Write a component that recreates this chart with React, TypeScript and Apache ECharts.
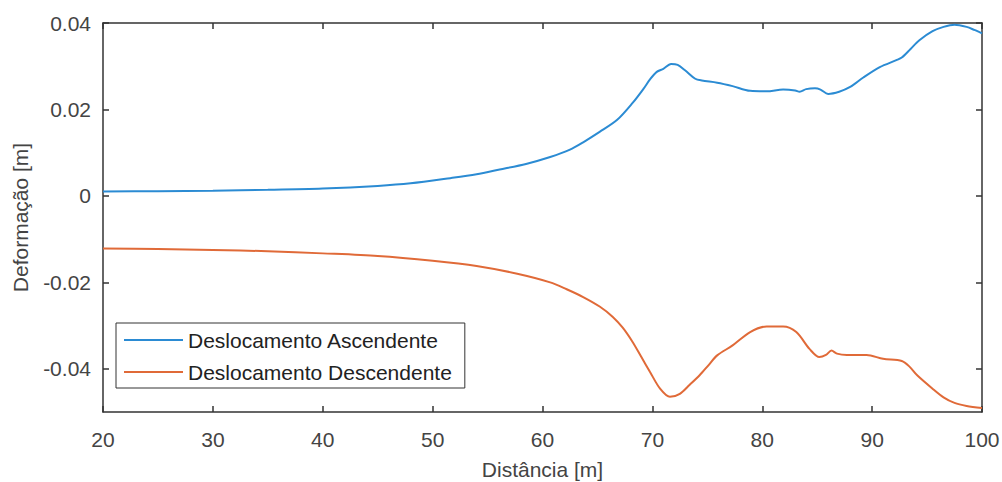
import React, { useEffect, useRef } from "react";
import * as echarts from "echarts";

const xTicks = [20, 30, 40, 50, 60, 70, 80, 90, 100];
const yTickLabels = [-0.04, -0.02, 0, 0.02, 0.04];

const ascX = [20, 25, 30, 35, 40, 45, 48, 51.6, 54, 56.1, 58.5, 60.7, 62.5, 63.7, 65.2, 66.8, 68.2, 69.2, 69.8, 70.4, 71.0, 71.7, 72.3, 73.0, 73.9, 74.5, 75.9, 77.3, 78.9, 80.4, 81.9, 83.0, 83.4, 84.0, 84.8, 85.3, 86.0, 87.0, 88.0, 89.2, 90.7, 92.2, 92.7, 93.5, 94.3, 95.5, 96.5, 97.5, 98.6, 99.3, 100];
const ascY = [0.001, 0.0011, 0.0012, 0.0014, 0.0017, 0.0023, 0.0029, 0.0041, 0.005, 0.0061, 0.0074, 0.009, 0.0107, 0.0124, 0.0148, 0.0176, 0.0215, 0.0248, 0.027, 0.0287, 0.0294, 0.0305, 0.0303, 0.029, 0.0271, 0.0267, 0.0262, 0.0254, 0.0243, 0.0242, 0.0246, 0.0244, 0.0241, 0.0247, 0.0249, 0.0246, 0.0236, 0.0241, 0.0252, 0.0274, 0.0298, 0.0314, 0.032, 0.034, 0.036, 0.0381, 0.0391, 0.0396, 0.0391, 0.0384, 0.0376];

const descX = [20, 25, 30, 35, 40, 45, 50, 54, 57.7, 60.7, 62.2, 63.7, 65.2, 66.4, 67.3, 68.2, 69.0, 69.8, 70.7, 71.6, 72.5, 73.4, 74.3, 75.1, 75.9, 77.3, 78.9, 80.4, 81.9, 83.1, 84.3, 85.2, 85.8, 86.3, 86.8, 87.7, 89.5, 91.0, 92.7, 93.4, 94.1, 95.5, 96.5, 97.5, 98.6, 100];
const descY = [-0.0122, -0.0123, -0.0125, -0.0128, -0.0133, -0.0139, -0.015, -0.0162, -0.018, -0.02, -0.0216, -0.0234, -0.0256, -0.028, -0.0305, -0.0338, -0.0373, -0.0408, -0.0446, -0.0465, -0.0458, -0.0437, -0.0415, -0.0392, -0.0369, -0.0346, -0.0315, -0.0302, -0.0302, -0.0315, -0.0354, -0.0373, -0.0368, -0.0358, -0.0365, -0.0368, -0.0368, -0.0377, -0.0382, -0.0395, -0.0415, -0.0446, -0.0466, -0.0479, -0.0486, -0.0491];

const seriesNames = ["Deslocamento Ascendente", "Deslocamento Descendente"];
const colors = ["#2b8bd3", "#e06a38"];

const FONT = "Liberation Sans, Arial, Helvetica, sans-serif";
const AXIS_COLOR = "#333333";
const TEXT_COLOR = "#444444";
const FS = 21;

export default function App() {
  const ref = useRef<HTMLDivElement>(null);
  useEffect(() => {
    document.body.style.margin = "0";
    if (!ref.current) return;
    const chart = echarts.init(ref.current, undefined, { renderer: "svg" });
    const pair = (xs: number[], ys: number[]) => xs.map((x, i) => [x, ys[i]]);
    const axisLine = { show: true, onZero: false, lineStyle: { color: AXIS_COLOR, width: 1.5 } };
    const tick = { show: true, inside: true, length: 6, lineStyle: { color: AXIS_COLOR, width: 1.5 } };
    chart.setOption({
      animation: false,
      backgroundColor: "#ffffff",
      textStyle: { fontFamily: FONT },
      grid: { left: 103, top: 23, right: 20, bottom: 70, containLabel: false, outerBoundsMode: "none" },
      legend: {
        left: 116,
        top: 323,
        orient: "vertical",
        icon: "rect",
        itemWidth: 59,
        itemHeight: 2,
        itemGap: 10,
        padding: [6, 13, 5, 8],
        borderColor: AXIS_COLOR,
        borderWidth: 1,
        backgroundColor: "#ffffff",
        textStyle: { fontSize: FS, color: "#222222", fontFamily: FONT, lineHeight: 22 },
        data: seriesNames,
      },
      xAxis: [
        {
          type: "value",
          min: 20,
          max: 100,
          interval: 10,
          position: "bottom",
          axisLine,
          axisTick: tick,
          splitLine: { show: false },
          axisLabel: { fontSize: FS, color: TEXT_COLOR, margin: 17, fontFamily: FONT, customValues: xTicks },
          name: "Distância [m]",
          nameLocation: "middle",
          nameGap: 47,
          nameTextStyle: { fontSize: FS, color: TEXT_COLOR, fontFamily: FONT },
        },
        {
          type: "value",
          min: 20,
          max: 100,
          interval: 10,
          position: "top",
          axisLine,
          axisTick: tick,
          splitLine: { show: false },
          axisLabel: { show: false },
        },
      ],
      yAxis: [
        {
          type: "value",
          min: -0.05,
          max: 0.04,
          interval: 0.01,
          position: "left",
          axisLine,
          axisTick: { ...tick, customValues: yTickLabels },
          splitLine: { show: false },
          axisLabel: {
            fontSize: FS,
            color: TEXT_COLOR,
            margin: 12,
            fontFamily: FONT,
            customValues: yTickLabels,
            formatter: (v: number) => (Math.abs(v) < 1e-9 ? "0" : v.toFixed(2)),
          },
          name: "Deformação [m]",
          nameLocation: "middle",
          nameGap: 72,
          nameTextStyle: { fontSize: FS, color: TEXT_COLOR, fontFamily: FONT },
        },
        {
          type: "value",
          min: -0.05,
          max: 0.04,
          interval: 0.01,
          position: "right",
          axisLine,
          axisTick: { ...tick, customValues: yTickLabels },
          splitLine: { show: false },
          axisLabel: { show: false },
        },
      ],
      series: [
        {
          name: seriesNames[0],
          type: "line",
          data: pair(ascX, ascY),
          showSymbol: false,
          symbol: "none",
          smooth: 0.3,
          lineStyle: { color: colors[0], width: 2 },
          itemStyle: { color: colors[0] },
        },
        {
          name: seriesNames[1],
          type: "line",
          data: pair(descX, descY),
          showSymbol: false,
          symbol: "none",
          smooth: 0.3,
          lineStyle: { color: colors[1], width: 2 },
          itemStyle: { color: colors[1] },
        },
      ],
    });
    return () => chart.dispose();
  }, []);
  return <div ref={ref} style={{ width: 1002, height: 482 }} />;
}
